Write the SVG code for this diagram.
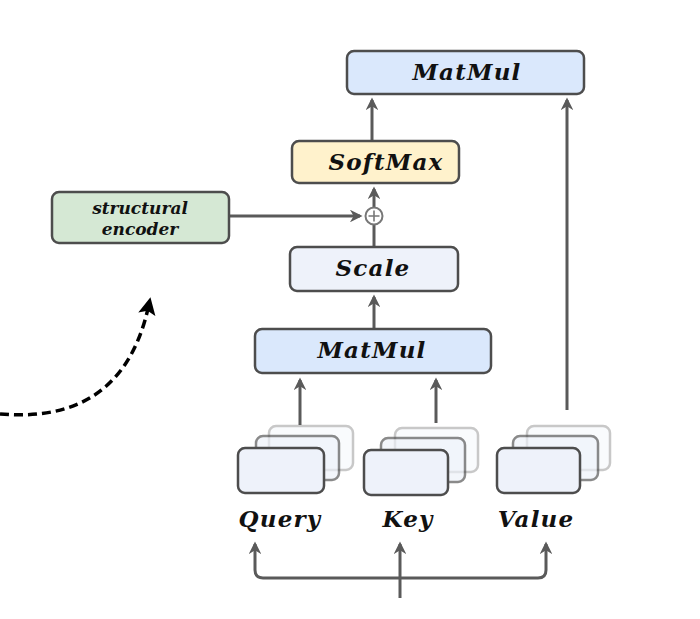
<svg xmlns="http://www.w3.org/2000/svg" width="700" height="619" viewBox="0 0 700 619">
<defs>
<marker id="ah" viewBox="0 0 10 10" refX="8" refY="5" markerWidth="4.2" markerHeight="4.2" orient="auto" markerUnits="strokeWidth">
<path d="M0,0 L10,5 L0,10 L3,5 Z" fill="#5a5a5a"/>
</marker>
<marker id="ahb" viewBox="0 0 10 10" refX="6" refY="5" markerWidth="5" markerHeight="5" orient="auto" markerUnits="strokeWidth">
<path d="M0,0 L10,5 L0,10 L2,5 Z" fill="#000"/>
</marker>
<style>
.box{stroke:#4d4d4d;stroke-width:2.5}
.t{font-family:"DejaVu Serif","Liberation Serif",serif;font-weight:bold;font-style:italic;fill:#111;text-anchor:middle}
.big{font-size:23px;letter-spacing:1.2px}
.small{font-size:17px}
.c{fill:none;stroke:#5a5a5a;stroke-width:3}
.stk{fill:#eef2fa;stroke:#4d4d4d;stroke-width:2.5}
.fade{opacity:0.3}
.mid{opacity:0.65}
</style>
</defs>
<rect width="700" height="619" fill="#fff"/>

<g id="connectors">
<path class="c" d="M372,141 L372,100" marker-end="url(#ah)"/>
<path class="c" d="M567,410 L567,100" marker-end="url(#ah)"/>
<path class="c" d="M374,207 L374,189" marker-end="url(#ah)"/>
<path class="c" d="M230,216 L360,216" marker-end="url(#ah)"/>
<path class="c" d="M374,247 L374,225"/>
<path class="c" d="M374,329 L374,297" marker-end="url(#ah)"/>
<path class="c" d="M300,425 L300,380" marker-end="url(#ah)"/>
<path class="c" d="M436,423 L436,380" marker-end="url(#ah)"/>
<path class="c" d="M400,598 L400,544" marker-end="url(#ah)"/>
<path class="c" d="M400,578 L263,578 Q255,578 255,570 L255,544" marker-end="url(#ah)"/>
<path class="c" d="M400,578 L538,578 Q546,578 546,570 L546,544" marker-end="url(#ah)"/>
<path d="M0,414 C60,419 128,404 149,304" fill="none" stroke="#000" stroke-width="3.5" stroke-dasharray="9,5" marker-end="url(#ahb)"/>
</g>

<g id="matmul-top">
<rect class="box" x="347" y="51" width="237" height="43" rx="7" fill="#dae8fc"/>
<text class="t big" x="467" y="80">MatMul</text>
</g>
<g id="softmax">
<rect class="box" x="292" y="141" width="167" height="42" rx="7" fill="#fff2cc"/>
<text class="t big" x="386" y="170">SoftMax</text>
</g>
<g id="plus">
<circle cx="374" cy="216" r="8.5" fill="#fff" stroke="#777" stroke-width="2"/>
<path d="M368.5,216 L379.5,216 M374,210.5 L374,221.5" stroke="#777" stroke-width="1.6"/>
</g>
<g id="structural-encoder">
<rect class="box" x="52" y="192" width="177" height="51" rx="7" fill="#d5e8d4"/>
<text class="t small" x="140" y="214">structural</text>
<text class="t small" x="140" y="235">encoder</text>
</g>
<g id="scale">
<rect class="box" x="290" y="247" width="168" height="44" rx="7" fill="#eef2fa"/>
<text class="t big" x="373" y="276">Scale</text>
</g>
<g id="matmul-bottom">
<rect class="box" x="255" y="329" width="236" height="44" rx="7" fill="#dae8fc"/>
<text class="t big" x="372" y="358">MatMul</text>
</g>

<g id="query">
<rect class="stk fade" x="269" y="426" width="84" height="44" rx="7"/>
<rect class="stk mid" x="256" y="436" width="83" height="44" rx="7"/>
<rect class="stk" x="238" y="448" width="86" height="45" rx="7"/>
<text class="t big" x="280" y="527">Query</text>
</g>
<g id="key">
<rect class="stk fade" x="395" y="428" width="83" height="44" rx="7"/>
<rect class="stk mid" x="381" y="438" width="84" height="44" rx="7"/>
<rect class="stk" x="364" y="450" width="84" height="45" rx="7"/>
<text class="t big" x="408" y="527">Key</text>
</g>
<g id="value">
<rect class="stk fade" x="527" y="426" width="83" height="44" rx="7"/>
<rect class="stk mid" x="513" y="436" width="85" height="44" rx="7"/>
<rect class="stk" x="497" y="448" width="83" height="45" rx="7"/>
<text class="t big" x="536" y="527">Value</text>
</g>
</svg>
